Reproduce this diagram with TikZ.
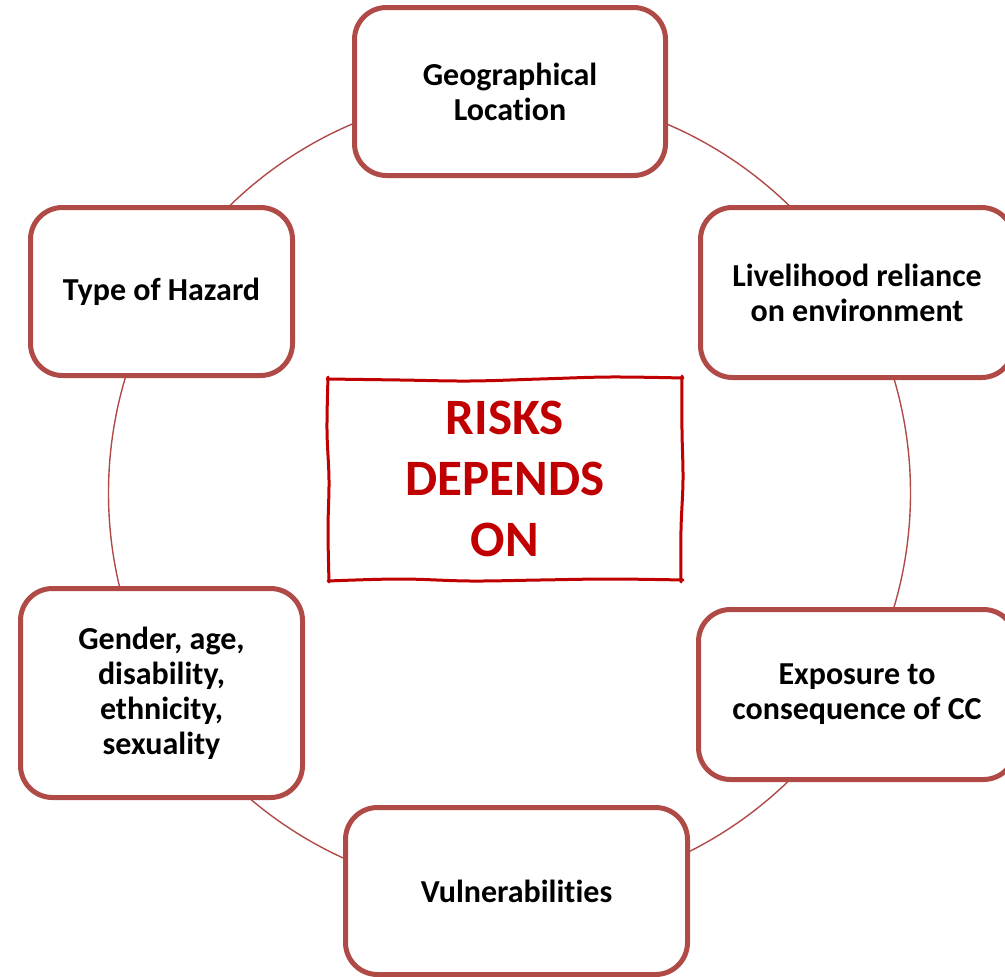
\documentclass[tikz,border=0pt]{standalone}
\usepackage{fontspec}
\setmainfont[Ligatures={NoCommon,NoRequired}]{Carlito}
\definecolor{boxred}{RGB}{176,74,70}
\definecolor{titlered}{RGB}{192,0,0}
\tikzset{
  itembox/.style={draw=boxred, line width=5pt, rounded corners=32pt, fill=white,
    align=center, inner sep=0pt, text=black,
    font=\fontsize{32}{35}\selectfont\bfseries},
  sketch/.style={draw=titlered, line width=3pt, line cap=round, line join=round},
  ring/.style={draw=boxred, line width=1.4pt}
}
\begin{document}
\begin{tikzpicture}[x=1pt,y=-1pt]
\useasboundingbox (0,0) rectangle (1005,977);
% ring
\coordinate (ringc) at (509.5,493);
\draw[ring] (ringc) circle[radius=401pt];
% boxes
\node[itembox, minimum width=311pt, minimum height=168pt] (geo) at (510,91.5) {Geographical\\Location};
\node[itembox, minimum width=262pt, minimum height=168pt] (haz) at (161.5,291.5) {Type of Hazard};
\node[itembox, minimum width=313pt, minimum height=170pt] (live) at (857,292.5) {Livelihood reliance\\on environment};
\node[itembox, minimum width=282pt, minimum height=209pt] (gend) at (161.5,693) {Gender, age,\\disability,\\ethnicity,\\sexuality};
\node[itembox, minimum width=317pt, minimum height=170pt] (expo) at (857,694.5) {Exposure to\\consequence of CC};
\node[itembox, minimum width=342pt, minimum height=167pt] (vuln) at (516.5,891) {Vulnerabilities};
% centre
\node[align=center, text=titlered, font=\fontsize{51}{61}\selectfont\bfseries,
  minimum width=354pt, minimum height=204pt, inner sep=0pt] (risk) at (505,479) {RISKS\\DEPENDS\\ON};
\draw[sketch] plot[smooth, tension=0.6] coordinates {(327,379) (400,380) (470,381) (540,379) (610,377) (683,378)};
\draw[sketch] plot[smooth, tension=0.6] coordinates {(682,376) (682,430) (683,480) (681,530) (681,582)};
\draw[sketch] plot[smooth, tension=0.6] coordinates {(683,580) (610,579) (540,580) (470,581) (400,579) (328,581)};
\draw[sketch] plot[smooth, tension=0.6] coordinates {(329,582) (328,530) (329,480) (327,430) (328,377)};
\end{tikzpicture}
\end{document}
